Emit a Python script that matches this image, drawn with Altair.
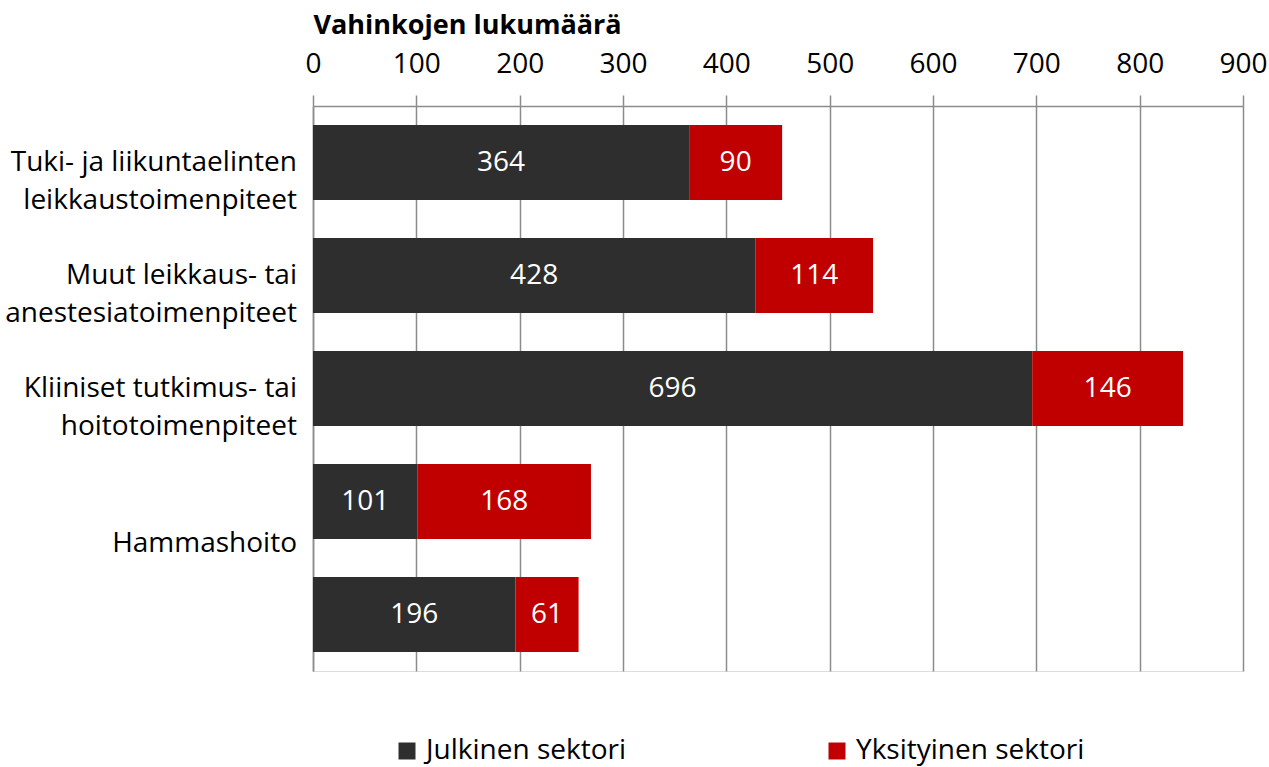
import altair as alt
import pandas as pd

# ---- data ----
row_ids = ["r1", "r2", "r3", "r4", "r5"]
row_labels = [
    "Tuki- ja liikuntaelinten|leikkaustoimenpiteet",
    "Muut leikkaus- tai|anestesiatoimenpiteet",
    "Kliiniset tutkimus- tai|hoitotoimenpiteet",
    "Hammashoito",
    "",
]
julkinen = [364, 428, 696, 101, 196]
yksityinen = [90, 114, 146, 168, 61]
series = ["Julkinen sektori", "Yksityinen sektori"]
colors = ["#2e2e2e", "#c00000"]
x_ticks = [0, 100, 200, 300, 400, 500, 600, 700, 800, 900]

rows = []
for i, rid in enumerate(row_ids):
    rows.append({"row": rid, "sector": series[0], "order": 0, "value": julkinen[i]})
    rows.append({"row": rid, "sector": series[1], "order": 1, "value": yksityinen[i]})
df = pd.DataFrame(rows)

lab_df = pd.DataFrame({"row": row_ids, "label": row_labels})

FONT = "Open Sans"
FS = 28
GRID = "#8c8c8c"

y_scale = alt.Scale(domain=row_ids, paddingInner=0.336, paddingOuter=0.168)
x_scale = alt.Scale(domain=[0, 900], nice=False, zero=True)

bars = alt.Chart(df).mark_bar(size=75).encode(
    x=alt.X(
        "value:Q",
        stack="zero",
        scale=x_scale,
        axis=alt.Axis(
            orient="top",
            values=x_ticks,
            grid=True,
            gridColor=GRID,
            gridWidth=1.5,
            tickColor=GRID,
            tickWidth=1.5,
            tickSize=11,
            domainColor=GRID,
            domainWidth=1.5,
            labelFont=FONT,
            labelFontSize=FS,
            labelColor="#000000",
            labelFlush=False,
            labelBaseline="alphabetic",
            labelPadding=23,
            title="Vahinkojen lukumäärä",
            titleFont=FONT,
            titleFontSize=27,
            titleFontWeight="bold",
            titleColor="#000000",
            titleX=0,
            titleY=-73,
            titleAlign="left",
            titleBaseline="alphabetic",
        ),
    ),
    y=alt.Y(
        "row:N",
        scale=y_scale,
        axis=alt.Axis(
            labels=False, ticks=False, title=None, domainColor=GRID, domainWidth=1.5
        ),
    ),
    color=alt.Color(
        "sector:N",
        scale=alt.Scale(domain=series, range=colors),
        legend=alt.Legend(
            title=None,
            orient="none",
            legendX=80,
            legendY=631,
            direction="horizontal",
            symbolType="square",
            symbolSize=289,
            symbolStrokeWidth=0,
            labelFont=FONT,
            labelFontSize=FS,
            labelColor="#000000",
            labelOffset=5,
            labelLimit=400,
            columnPadding=197,
        ),
    ),
    order=alt.Order("order:Q"),
)

values_text = (
    alt.Chart(df)
    .transform_stack(
        stack="value", groupby=["row"], as_=["v0", "v1"], sort=[alt.SortField("order")]
    )
    .transform_calculate(mid="(datum.v0 + datum.v1) / 2")
    .mark_text(font=FONT, fontSize=FS, color="white", baseline="middle", align="center")
    .encode(
        x=alt.X("mid:Q", scale=x_scale),
        y=alt.Y("row:N", scale=y_scale),
        text="value:Q",
    )
)

cat_text = (
    alt.Chart(lab_df)
    .transform_filter("datum.row != 'r4'")
    .mark_text(
        font=FONT, fontSize=FS, color="black", align="right", baseline="middle",
        lineBreak="|", lineHeight=38,
    )
    .encode(y=alt.Y("row:N", scale=y_scale), x=alt.value(-16), text="label:N")
)

ham_text = (
    alt.Chart(lab_df)
    .transform_filter("datum.row == 'r4'")
    .mark_text(
        font=FONT, fontSize=FS, color="black", align="right", baseline="middle",
        yOffset=42,
    )
    .encode(y=alt.Y("row:N", scale=y_scale), x=alt.value(-16), text="label:N")
)

chart = (
    alt.layer(bars, values_text, cat_text, ham_text)
    .properties(
        width=930,
        height=565,
        autosize=alt.AutoSizeParams(type="none"),
        padding={"left": 313, "top": 106, "right": 26, "bottom": 96},
    )
    .configure_view(stroke=None)
    .configure(background="white")
)

chart.save("out.html", embed_options={"renderer": "svg", "actions": False})
